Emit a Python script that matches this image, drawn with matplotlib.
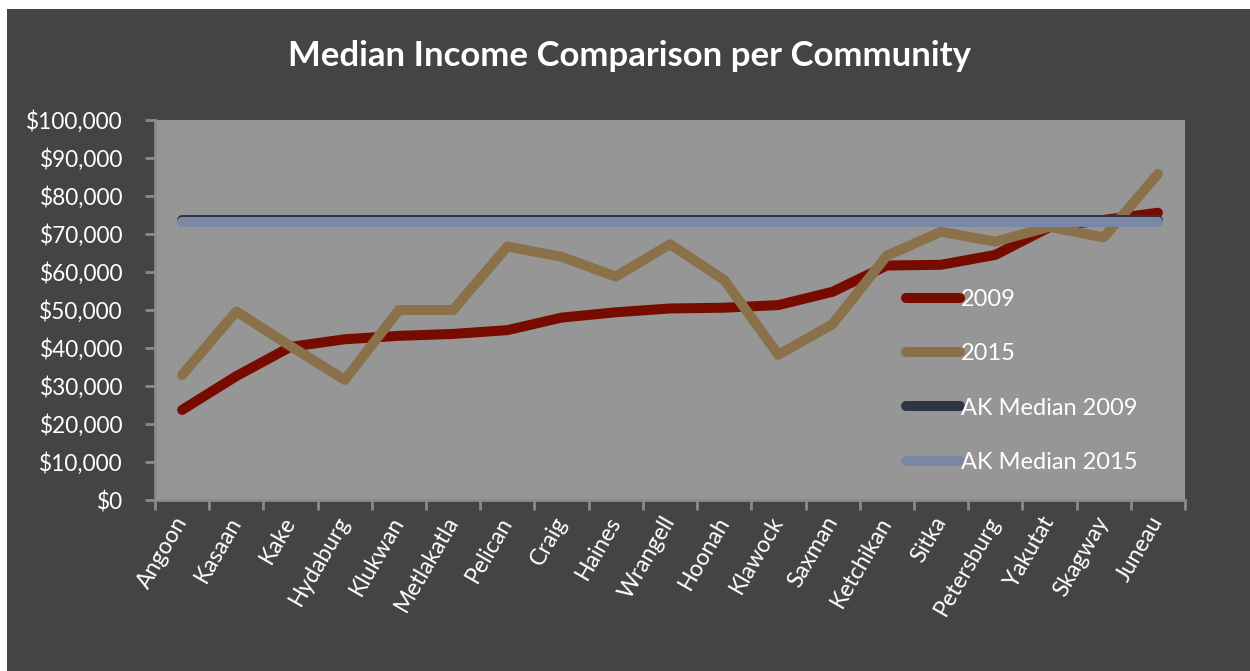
import matplotlib
matplotlib.use('Agg')
import matplotlib.pyplot as plt
from matplotlib.patches import Rectangle
from matplotlib.ticker import FuncFormatter, MultipleLocator

plt.rcParams['font.family'] = ['Lato', 'DejaVu Sans']

# Median household income per community
comunidades = ['Angoon', 'Kasaan', 'Kake', 'Hydaburg', 'Klukwan', 'Metlakatla',
               'Pelican', 'Craig', 'Haines', 'Wrangell', 'Hoonah', 'Klawock',
               'Saxman', 'Ketchikan', 'Sitka', 'Petersburg', 'Yakutat',
               'Skagway', 'Juneau']
ingreso_2009 = [23700, 32600, 40300, 42300, 43200, 43700, 44700, 48000, 49400,
                50400, 50600, 51300, 54800, 61700, 61900, 64500, 71800,
                73700, 75600]
ingreso_2015 = [32900, 49600, 40500, 31600, 50000, 50000, 66700, 64000, 58800,
                67300, 57900, 38200, 46300, 64300, 70600, 68000, 71900,
                69100, 85800]
ak_mediana_2009 = 73700
ak_mediana_2015 = 73200

fondo = '#444444'
gris_eje = '#8a8a8a'

fig = plt.figure(figsize=(12.5, 6.71), dpi=100, facecolor='white')
fig.add_artist(Rectangle((7 / 1250, 0), 1 - 7 / 1250, 1 - 9 / 671,
                         transform=fig.transFigure, facecolor=fondo,
                         edgecolor='none', zorder=-10))

ax = fig.add_axes([155 / 1250, 1 - 500 / 671, 1030 / 1250, 380 / 671])
ax.set_facecolor('#969696')

x = list(range(len(comunidades)))
estilo = dict(linewidth=7.2, solid_capstyle='round', solid_joinstyle='round')
ax.plot(x, ingreso_2009, color='#780b00', label='2009', **estilo)
ax.plot(x, ingreso_2015, color='#8b7149', label='2015', **estilo)
ax.plot(x, [ak_mediana_2009] * len(x), color='#2e3645', label='AK Median 2009', **estilo)
ax.plot(x, [ak_mediana_2015] * len(x), color='#7a88a6', label='AK Median 2015', **estilo)

ax.set_xlim(-0.5, len(comunidades) - 0.5)
ax.set_ylim(0, 100000)
ax.yaxis.set_major_locator(MultipleLocator(10000))
ax.yaxis.set_major_formatter(FuncFormatter(lambda v, p: '${:,.0f}'.format(v)))

# ticks between categories, labels at the centre
ax.set_xticks([i - 0.5 for i in range(len(comunidades) + 1)])
ax.set_xticklabels([])
ax.set_xticks(x, minor=True)
ax.set_xticklabels(comunidades, minor=True, rotation=60, ha='right',
                   va='center', rotation_mode='anchor', fontsize=16.5,
                   color='white')
ax.tick_params(axis='x', which='minor', length=0, pad=13)
ax.tick_params(axis='x', which='major', length=7, width=2, color=gris_eje)
ax.tick_params(axis='y', length=7, width=2, color=gris_eje, labelsize=16.3,
               labelcolor='white', pad=16)

for lado in ['top', 'right']:
    ax.spines[lado].set_visible(False)
for lado in ['left', 'bottom']:
    ax.spines[lado].set_color(gris_eje)
    ax.spines[lado].set_linewidth(2)

leg = ax.legend(loc='upper left', bbox_to_anchor=(0.729, 0.555), frameon=False,
                fontsize=17, labelcolor='white', handlelength=2.3,
                handletextpad=0.05, labelspacing=1.41, borderaxespad=0,
                borderpad=0)

fig.text(0.504, 1 - 56 / 671, 'Median Income Comparison per Community',
         ha='center', va='center', color='white', fontsize=25,
         fontweight='bold')

plt.savefig('out.png', dpi=100, facecolor=fig.get_facecolor())
